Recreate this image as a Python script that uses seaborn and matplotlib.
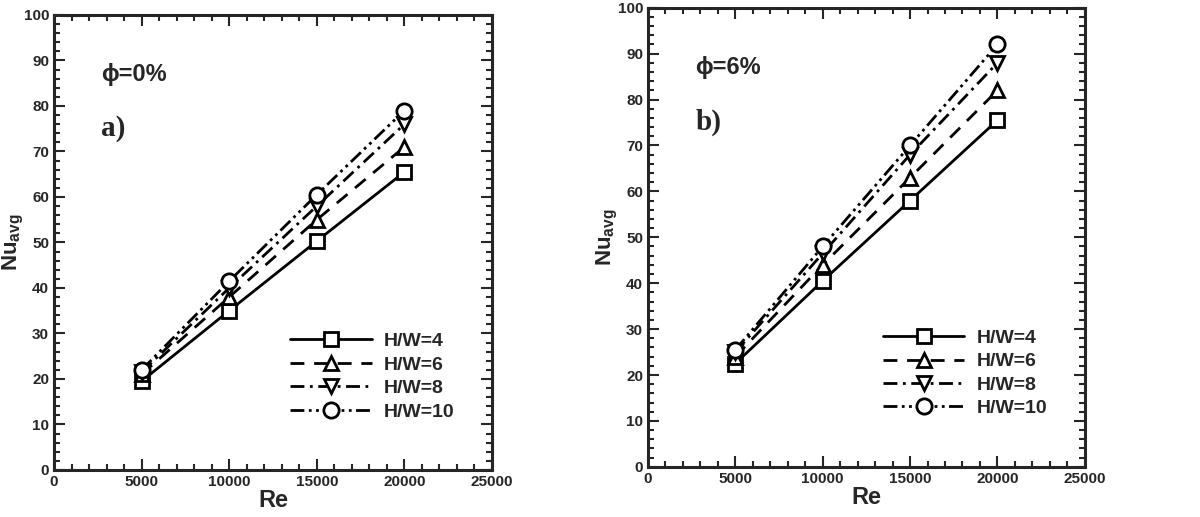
import numpy as np
import pandas as pd
import matplotlib
matplotlib.use('Agg')
import matplotlib.pyplot as plt
import seaborn as sns
from matplotlib.ticker import MultipleLocator

# Datos
re_vals = [5000, 10000, 15000, 20000]
series = ['H/W=4', 'H/W=6', 'H/W=8', 'H/W=10']

# phi = 0%
nu_phi0 = {
    'H/W=4': [19.5, 35.0, 50.3, 65.5],
    'H/W=6': [21.0, 38.0, 55.0, 71.0],
    'H/W=8': [21.5, 40.0, 58.0, 76.0],
    'H/W=10': [22.0, 41.5, 60.5, 79.0],
}
# phi = 6%
nu_phi6 = {
    'H/W=4': [22.5, 40.5, 58.0, 75.5],
    'H/W=6': [24.0, 44.0, 63.0, 82.0],
    'H/W=8': [25.0, 46.5, 68.0, 88.0],
    'H/W=10': [25.5, 48.0, 70.0, 92.0],
}

sns.set_theme(style='ticks')
plt.rcParams['font.family'] = ['Liberation Sans', 'DejaVu Sans']
plt.rcParams['font.weight'] = 'bold'
plt.rcParams['mathtext.fontset'] = 'custom'
plt.rcParams['mathtext.bf'] = 'Liberation Sans:bold'
plt.rcParams['mathtext.rm'] = 'Liberation Sans:bold'

markers = {'H/W=4': 's', 'H/W=6': '^', 'H/W=8': 'v', 'H/W=10': 'o'}
estilos = {
    'H/W=4': '-',
    'H/W=6': (0, (5, 3.5)),
    'H/W=8': (0, (5, 2, 1, 2)),
    'H/W=10': (0, (5, 1.6, 1, 1.6, 1, 1.6)),
}

fig = plt.figure(figsize=(12, 5.17), dpi=100)
ax1 = fig.add_axes([0.045, 0.091, 0.365, 0.880])
ax2 = fig.add_axes([0.540, 0.097, 0.364, 0.888])


def dibujar(ax, datos, phi_txt, letra, ylab_x):
    for s in series:
        df = pd.DataFrame({'Re': re_vals, 'Nu': datos[s]})
        sns.lineplot(data=df, x='Re', y='Nu', ax=ax, color='black',
                     linestyle=estilos[s], linewidth=2.0, marker=markers[s],
                     markersize=10 if s != 'H/W=10' else 11,
                     markerfacecolor='white', markeredgecolor='black',
                     markeredgewidth=2.0, label=s)
    ax.set_xlim(0, 25000)
    ax.set_ylim(0, 100)
    ax.xaxis.set_major_locator(MultipleLocator(5000))
    ax.xaxis.set_minor_locator(MultipleLocator(1000))
    ax.yaxis.set_major_locator(MultipleLocator(10))
    ax.yaxis.set_minor_locator(MultipleLocator(2))
    ax.tick_params(which='both', direction='in', top=True, right=True,
                   width=1.5, labelsize=11)
    ax.tick_params(which='major', length=8)
    ax.tick_params(which='minor', length=4)
    for lab in ax.get_xticklabels() + ax.get_yticklabels():
        lab.set_fontweight('bold')
    for sp in ax.spines.values():
        sp.set_linewidth(2.2)
    ax.set_xlabel('Re', fontsize=17, fontweight='bold', labelpad=0)
    ax.set_ylabel(r'Nu$_{\mathbf{avg}}$', fontsize=16, fontweight='bold')
    ax.yaxis.set_label_coords(ylab_x, 0.5)
    ax.text(2700, 87, phi_txt, fontsize=17, fontweight='bold',
            va='center', ha='left')
    ax.text(2700, 75, letra, fontsize=21, fontweight='bold',
            family=['Liberation Serif'], va='center', ha='left')
    ax.legend(loc='lower right', bbox_to_anchor=(0.955, 0.07), frameon=False,
              handlelength=4.2, labelspacing=0.3, handletextpad=0.65,
              prop={'weight': 'bold', 'size': 14})


dibujar(ax1, nu_phi0, 'ϕ=0%', 'a)', -0.063)
dibujar(ax2, nu_phi6, 'ϕ=6%', 'b)', -0.063)

fig.savefig('out.png', dpi=100, facecolor='white')
